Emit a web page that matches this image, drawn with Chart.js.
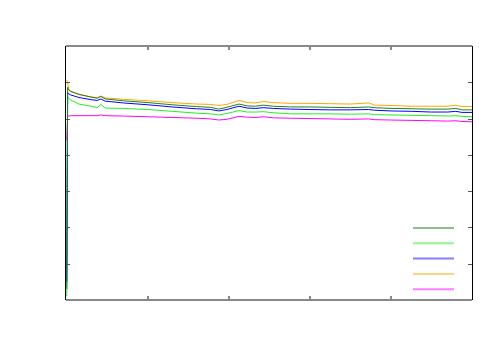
<!DOCTYPE html>
<html>
<head>
<meta charset="utf-8">
<script src="https://cdn.jsdelivr.net/npm/chart.js@4.4.0/dist/chart.umd.min.js"></script>
<style>
  html, body { margin: 0; padding: 0; background: #fff; }
  #wrap { width: 500px; height: 350px; }
</style>
</head>
<body>
<div id="wrap"><canvas id="myChart"></canvas></div>
<script>
// x positions of the samples (0 .. 1000)
var steps = [0, 2, 5, 10, 30, 60, 75, 84, 95, 140, 200, 260, 320, 355, 375, 395, 425, 445, 465, 485, 510, 552, 600, 650, 700, 745, 760, 800, 850, 900, 940, 960, 975, 1000];

var darkGreen = [3, 58.6, 57.9, 57.5, 56.7, 55.9, 55.6, 56.1, 55.4, 54.9, 54.4, 53.8, 53.3, 53.1, 52.6, 53.1, 54.0, 53.5, 53.4, 53.7, 53.4, 53.2, 53.2, 53.1, 53.0, 53.2, 53.0, 52.8, 52.7, 52.6, 52.6, 52.8, 52.4, 52.4];
var lightGreen = [1, 56.0, 55.5, 55.1, 54.0, 53.4, 53.0, 53.9, 52.9, 52.8, 52.5, 52.0, 51.5, 51.3, 51.0, 51.4, 52.2, 51.8, 51.8, 51.9, 51.6, 51.3, 51.3, 51.3, 51.2, 51.3, 51.1, 51.0, 50.9, 50.8, 50.7, 50.8, 50.6, 50.5];
var blue = [5, 57.2, 56.8, 56.5, 55.8, 55.2, 55.0, 55.4, 54.8, 54.3, 53.8, 53.2, 52.7, 52.5, 52.1, 52.5, 53.4, 52.9, 52.8, 53.0, 52.8, 52.6, 52.5, 52.4, 52.4, 52.5, 52.3, 52.1, 52.0, 51.8, 51.8, 52.0, 51.7, 51.7];
var orange = [60.6, 60.0, 57.8, 57.4, 56.6, 56.0, 55.8, 56.2, 55.7, 55.3, 54.9, 54.4, 54.0, 53.9, 53.6, 53.9, 55.0, 54.4, 54.3, 54.7, 54.4, 54.2, 54.2, 54.1, 54.0, 54.3, 53.7, 53.6, 53.4, 53.4, 53.4, 53.7, 53.3, 53.3];
var magenta = [44, 50.7, 50.7, 50.8, 50.8, 50.8, 50.8, 51.0, 50.8, 50.7, 50.5, 50.3, 50.1, 49.9, 49.6, 49.8, 50.6, 50.4, 50.3, 50.5, 50.2, 50.1, 50.0, 49.9, 49.8, 49.9, 49.7, 49.6, 49.5, 49.4, 49.3, 49.4, 49.2, 49.1];

var xTicks = [200, 400, 600, 800];
var yTicks = [10, 20, 30, 40, 50, 60];

var seriesNames = ["darkgreen", "green", "blue", "orange", "magenta"];
var seriesColors = ["#1f7f1f", "#22ee22", "#0000ff", "#ffa500", "#ff00ff"];
var seriesValues = [darkGreen, lightGreen, blue, orange, magenta];
var drawOrder = [0, 3, 2, 4, 1]; // lower = drawn on top

function toPoints(vals){
    return vals.map(function(v, i){ return {x: steps[i], y: v}; });
}

// frame, inward tick marks and line-only legend (gnuplot style)
const framePlugin = {
    id: 'frame',
    afterDatasetsDraw(chart){
        const ctx = chart.ctx;
        const a = chart.chartArea;
        const xs = chart.scales.x, ys = chart.scales.y;
        ctx.save();
        // horizontal edges
        ctx.strokeStyle = '#888';
        ctx.lineWidth = 2;
        ctx.beginPath();
        ctx.moveTo(a.left, a.top); ctx.lineTo(a.right, a.top);
        ctx.moveTo(a.left, a.bottom); ctx.lineTo(a.right, a.bottom);
        ctx.stroke();
        // vertical edges
        ctx.strokeStyle = '#000';
        ctx.lineWidth = 1;
        ctx.beginPath();
        ctx.moveTo(a.left - 0.5, a.top); ctx.lineTo(a.left - 0.5, a.bottom);
        ctx.moveTo(a.right + 0.5, a.top); ctx.lineTo(a.right + 0.5, a.bottom);
        ctx.stroke();
        // y ticks
        ctx.strokeStyle = '#555';
        ctx.beginPath();
        yTicks.forEach(function(v){
            const p = Math.round(ys.getPixelForValue(v)) + 0.5;
            ctx.moveTo(a.left, p); ctx.lineTo(a.left + 4, p);
            ctx.moveTo(a.right, p); ctx.lineTo(a.right - 4, p);
        });
        ctx.stroke();
        // x ticks
        ctx.strokeStyle = '#888';
        ctx.lineWidth = 2;
        ctx.beginPath();
        xTicks.forEach(function(v){
            const p = Math.round(xs.getPixelForValue(v));
            ctx.moveTo(p, a.bottom); ctx.lineTo(p, a.bottom - 4);
            ctx.moveTo(p, a.top); ctx.lineTo(p, a.top + 4);
        });
        ctx.stroke();
        // legend samples
        ctx.lineWidth = 2;
        chart.data.datasets.forEach(function(ds, i){
            const y = 228 + i * 15.3;
            ctx.strokeStyle = ds.borderColor;
            ctx.globalAlpha = 0.5;
            ctx.beginPath();
            ctx.moveTo(413, y); ctx.lineTo(454, y);
            ctx.stroke();
        });
        ctx.restore();
    }
};

var ctx = document.getElementById("myChart").getContext('2d');
var myChart = new Chart(ctx, {
    type: 'line',
    data: {
        datasets: seriesNames.map(function(name, i){
            return {
                label: name,
                data: toPoints(seriesValues[i]),
                borderColor: seriesColors[i],
                backgroundColor: seriesColors[i],
                borderWidth: 1,
                pointRadius: 0,
                tension: 0,
                fill: false,
                order: drawOrder[i]
            };
        })
    },
    options: {
        responsive: true,
        maintainAspectRatio: false,
        animation: false,
        layout: { padding: { left: 66, top: 46, right: 28, bottom: 50 } },
        plugins: { legend: { display: false }, tooltip: { enabled: false } },
        scales: {
            x: { type: 'linear', min: -2, max: 1000, display: false },
            y: { min: 0, max: 70, display: false }
        }
    },
    plugins: [framePlugin]
});
</script>
</body>
</html>
